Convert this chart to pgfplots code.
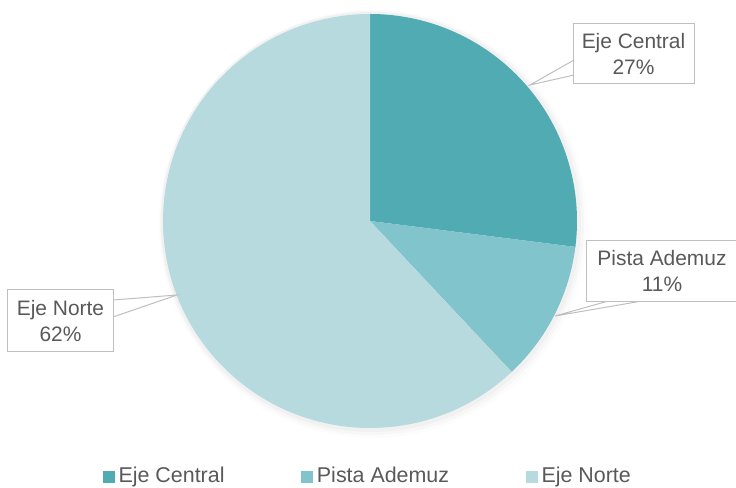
\documentclass[border=0pt]{standalone}
\usepackage{pgfplots}
\pgfplotsset{compat=1.18}
\usepackage{pgfplotstable}
\usepackage{fontspec}
\setmainfont{Liberation Sans}

\definecolor{cCentral}{HTML}{50ABB3}
\definecolor{cAdemuz}{HTML}{81C4CB}
\definecolor{cNorte}{HTML}{B7DADF}
\definecolor{txt}{HTML}{595959}
\definecolor{lbl}{HTML}{BFBFBF}

% share of each branch, in percent
\pgfplotstableread[col sep=comma]{
name,value,color
Eje Central,27,cCentral
Pista Ademuz,11,cAdemuz
Eje Norte,62,cNorte
}\piedata

\begin{document}
\begin{tikzpicture}[font=\fontsize{21}{27}\selectfont]
\begin{axis}[
  x=1bp,y=1bp,xmin=0,xmax=736,ymin=0,ymax=488,
  hide axis,clip=false,
  legend columns=-1,
  legend style={at={(axis cs:368,-1)},anchor=south,draw=none,fill=none,
    text=txt,font=\fontsize{21.5}{24}\selectfont,
    nodes={inner sep=2.5bp},
    /tikz/every even column/.append style={column sep=74bp}},
]
\coordinate (bl) at (axis cs:0,0);
\coordinate (tr) at (axis cs:736,488);

% faint shadow
\fill[black,opacity=0.012] (axis cs:373,264) circle[radius=214bp];
\fill[black,opacity=0.018] (axis cs:372,265) circle[radius=212bp];
\fill[black,opacity=0.025] (axis cs:371,266) circle[radius=210bp];

\def\startang{90}
\pgfplotsforeachungrouped \i in {0,1,2}{%
  \pgfplotstablegetelem{\i}{value}\of\piedata \let\val\pgfplotsretval
  \pgfplotstablegetelem{\i}{color}\of\piedata \let\col\pgfplotsretval
  \pgfmathsetmacro\endang{\startang-3.6*\val}%
  \edef\temp{\noexpand\fill[\col] (axis cs:370,267) -- ++(\startang:207bp)
    arc[start angle=\startang,end angle=\endang,radius=207bp] -- cycle;}%
  \temp
  \global\let\startang\endang
}

% callouts
\filldraw[fill=white,draw=lbl,line width=1bp] (axis cs:530,403) -- (axis cs:574,428) -- (axis cs:574,413) -- cycle;
\node[draw=lbl,line width=1bp,fill=white,text=txt,align=center,minimum width=121bp,minimum height=60bp,inner sep=0pt]
  at (axis cs:633.5,434) {Eje Central\\27\%};

\filldraw[fill=white,draw=lbl,line width=1bp] (axis cs:555,172) -- (axis cs:612,188) -- (axis cs:648,188) -- cycle;
\node[draw=lbl,line width=1bp,fill=white,text=txt,align=center,minimum width=152bp,minimum height=61bp,inner sep=0pt]
  at (axis cs:662,217) {Pista Ademuz\\11\%};

\filldraw[fill=white,draw=lbl,line width=1bp] (axis cs:177,193) -- (axis cs:113,188) -- (axis cs:113,171) -- cycle;
\node[draw=lbl,line width=1bp,fill=white,text=txt,align=center,minimum width=105bp,minimum height=62bp,inner sep=0pt]
  at (axis cs:60.5,167) {Eje Norte\\62\%};

\addlegendimage{legend image code/.code={\fill[cCentral] (0bp,-6bp) rectangle (11bp,5bp); \path (13bp,0bp);}}
\addlegendentry{Eje Central}
\addlegendimage{legend image code/.code={\fill[cAdemuz] (0bp,-6bp) rectangle (11bp,5bp); \path (13bp,0bp);}}
\addlegendentry{Pista Ademuz}
\addlegendimage{legend image code/.code={\fill[cNorte] (0bp,-6bp) rectangle (11bp,5bp); \path (13bp,0bp);}}
\addlegendentry{Eje Norte}
\end{axis}
\pgfresetboundingbox
\path (bl) rectangle (tr);
\end{tikzpicture}
\end{document}
